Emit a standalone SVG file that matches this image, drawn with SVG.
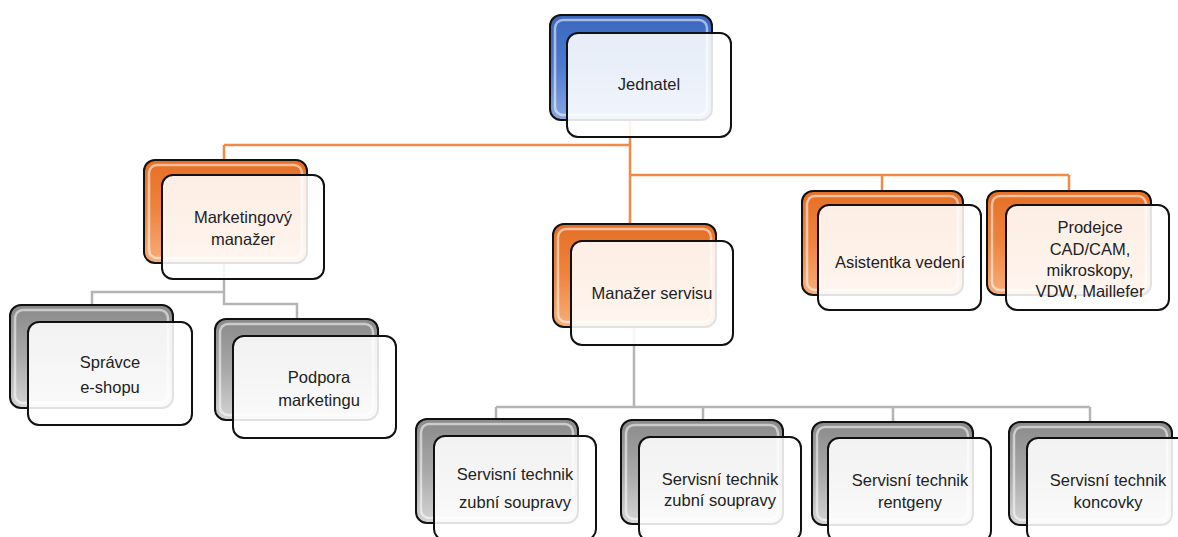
<svg xmlns="http://www.w3.org/2000/svg" width="1178" height="537" viewBox="0 0 1178 537">
<style>
.back{stroke:#111;stroke-width:2}
.hl{fill:none;stroke:#fff;stroke-opacity:0.55;stroke-width:2.5}
.front{fill:#fff;fill-opacity:0.88;stroke:#111;stroke-width:2}
.lbl{font-family:"Liberation Sans",Arial,sans-serif;font-size:16.5px;fill:#222;text-anchor:middle}
.oc{fill:none;stroke:#F08A45;stroke-width:2.5}
.gc{fill:none;stroke:#B5B5B5;stroke-width:2.5}
</style>
<defs>
<linearGradient id="gB" x1="0" y1="0" x2="0" y2="1"><stop offset="0" stop-color="#3A66BE"/><stop offset="0.5" stop-color="#4E7BD0"/><stop offset="1" stop-color="#88A6E0"/></linearGradient>
<linearGradient id="gO" x1="0" y1="0" x2="0" y2="1"><stop offset="0" stop-color="#E56F25"/><stop offset="0.5" stop-color="#EE8440"/><stop offset="1" stop-color="#F7AE78"/></linearGradient>
<linearGradient id="gG" x1="0" y1="0" x2="0" y2="1"><stop offset="0" stop-color="#8A8A8A"/><stop offset="0.5" stop-color="#A8A8A8"/><stop offset="1" stop-color="#D4D4D4"/></linearGradient>
</defs>
<g id="connectors">
<path class="oc" d="M630 120 V224 M224 145 H630 M224 145 V160 M630 175 H1069 M882 175 V191 M1069 175 V191"/>
<path class="gc" d="M224 263 V304 H297 V319 M224 292 H92 V305 M634 327 V407 M496 407 H1090 M496 407 V419 M703 407 V420 M893 407 V422 M1090 407 V422"/>
</g>
<g id="n-jednatel">
<rect class="back" x="550" y="15" width="162" height="105" rx="11" fill="url(#gB)"/>
<rect class="hl" x="555" y="20" width="152" height="95" rx="8"/>
<rect class="front" x="567" y="33" width="164" height="104" rx="11"/>
<text class="lbl" x="649" y="90">Jednatel</text>
</g>
<g id="n-marketing">
<rect class="back" x="144" y="160" width="163" height="103" rx="11" fill="url(#gO)"/>
<rect class="hl" x="149" y="165" width="153" height="93" rx="8"/>
<rect class="front" x="162" y="175" width="162" height="104" rx="11"/>
<text class="lbl" x="243" y="223">Marketingový</text>
<text class="lbl" x="243" y="245">manažer</text>
</g>
<g id="n-servis">
<rect class="back" x="553" y="224" width="163" height="103" rx="11" fill="url(#gO)"/>
<rect class="hl" x="558" y="229" width="153" height="93" rx="8"/>
<rect class="front" x="571" y="241" width="162" height="104" rx="11"/>
<text class="lbl" x="652" y="299">Manažer servisu</text>
</g>
<g id="n-asistentka">
<rect class="back" x="802" y="191" width="161" height="104" rx="11" fill="url(#gO)"/>
<rect class="hl" x="807" y="196" width="151" height="94" rx="8"/>
<rect class="front" x="818" y="205" width="163" height="105" rx="11"/>
<text class="lbl" x="900" y="268">Asistentka vedení</text>
</g>
<g id="n-prodejce">
<rect class="back" x="987" y="191" width="164" height="104" rx="11" fill="url(#gO)"/>
<rect class="hl" x="992" y="196" width="154" height="94" rx="8"/>
<rect class="front" x="1006" y="205" width="163" height="105" rx="11"/>
<text class="lbl" x="1090" y="233">Prodejce</text>
<text class="lbl" x="1090" y="255">CAD/CAM,</text>
<text class="lbl" x="1090" y="276">mikroskopy,</text>
<text class="lbl" x="1090" y="297">VDW, Maillefer</text>
</g>
<g id="n-spravce">
<rect class="back" x="10" y="305" width="163" height="103" rx="11" fill="url(#gG)"/>
<rect class="hl" x="15" y="310" width="153" height="93" rx="8"/>
<rect class="front" x="28" y="322" width="164" height="103" rx="11"/>
<text class="lbl" x="110" y="368">Správce</text>
<text class="lbl" x="110" y="393">e-shopu</text>
</g>
<g id="n-podpora">
<rect class="back" x="215" y="319" width="163" height="101" rx="11" fill="url(#gG)"/>
<rect class="hl" x="220" y="324" width="153" height="91" rx="8"/>
<rect class="front" x="233" y="336" width="163" height="102" rx="11"/>
<text class="lbl" x="319" y="383">Podpora</text>
<text class="lbl" x="319" y="406">marketingu</text>
</g>
<g id="n-st1">
<rect class="back" x="416" y="419" width="162" height="104" rx="11" fill="url(#gG)"/>
<rect class="hl" x="421" y="424" width="152" height="94" rx="8"/>
<rect class="front" x="434" y="436" width="162" height="104" rx="11"/>
<text class="lbl" x="515" y="480">Servisní technik</text>
<text class="lbl" x="515" y="508">zubní soupravy</text>
</g>
<g id="n-st2">
<rect class="back" x="621" y="420" width="162" height="104" rx="11" fill="url(#gG)"/>
<rect class="hl" x="626" y="425" width="152" height="94" rx="8"/>
<rect class="front" x="639" y="437" width="162" height="104" rx="11"/>
<text class="lbl" x="720" y="485">Servisní technik</text>
<text class="lbl" x="720" y="506">zubní soupravy</text>
</g>
<g id="n-st3">
<rect class="back" x="812" y="422" width="161" height="103" rx="11" fill="url(#gG)"/>
<rect class="hl" x="817" y="427" width="151" height="93" rx="8"/>
<rect class="front" x="828" y="438" width="163" height="104" rx="11"/>
<text class="lbl" x="910" y="486">Servisní technik</text>
<text class="lbl" x="910" y="508">rentgeny</text>
</g>
<g id="n-st4">
<rect class="back" x="1009" y="422" width="163" height="103" rx="11" fill="url(#gG)"/>
<rect class="hl" x="1014" y="427" width="153" height="93" rx="8"/>
<rect class="front" x="1027" y="438" width="163" height="104" rx="11"/>
<text class="lbl" x="1108" y="486">Servisní technik</text>
<text class="lbl" x="1108" y="508">koncovky</text>
</g>
</svg>
